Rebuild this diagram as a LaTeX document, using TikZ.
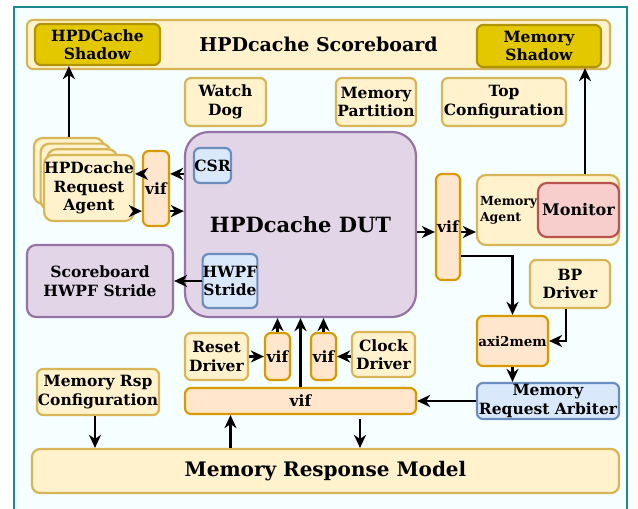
\documentclass[tikz,border=0pt]{standalone}
\usepackage{fontspec}
\setmainfont{DejaVu Serif}
\usetikzlibrary{arrows.meta}
\definecolor{yfill}{HTML}{FFF2CC}\definecolor{ydraw}{HTML}{D6B656}
\definecolor{sfill}{HTML}{E3C800}\definecolor{sdraw}{HTML}{B09500}
\definecolor{ofill}{HTML}{FFE6CC}\definecolor{odraw}{HTML}{D79B00}
\definecolor{pfill}{HTML}{E1D5E7}\definecolor{pdraw}{HTML}{9673A6}
\definecolor{bfill}{HTML}{DAE8FC}\definecolor{bdraw}{HTML}{6C8EBF}
\definecolor{rfill}{HTML}{F8CECC}\definecolor{rdraw}{HTML}{B85450}
\definecolor{bord}{HTML}{1A8A8F}\definecolor{fond}{HTML}{F5FFFF}

\begin{document}
\begin{tikzpicture}[x=1pt, y=-1pt]
  %tikz%
  % Banc de test HPDcache
  %tikz%
    \tikzset{boite/.style={draw, line width=2.2pt, rounded corners=6pt, align=center,
               inner sep=0pt, font=\fontsize{15.5}{18.5}\selectfont\bfseries},
             jaune/.style={boite, fill=yfill, draw=ydraw},
             ombre/.style={boite, fill=sfill, draw=sdraw},
             vif/.style={boite, fill=ofill, draw=odraw},
             violet/.style={boite, fill=pfill, draw=pdraw},
             bleu/.style={boite, fill=bfill, draw=bdraw},
             rouge/.style={boite, fill=rfill, draw=rdraw},
             fl/.style={line width=2.2pt, -{Stealth[length=13pt, width=12pt, inset=4pt]}}}

    \path[use as bounding box, clip] (0,0) rectangle (638,509);
    \fill[white] (0,0) rectangle (638,509);
    \draw[line width=2.5pt, draw=bord, fill=fond] (14,7) rectangle (627,530);

    % scoreboard
    \node[jaune, minimum width=583pt, minimum height=49pt,
          font=\fontsize{19}{22}\selectfont\bfseries] (sb) at (318.5,44.5) {HPDcache Scoreboard};
    \node[ombre, minimum width=125pt, minimum height=41pt] (hsh) at (97.5,44.5) {HPDCache\\Shadow};
    \node[ombre, minimum width=124pt, minimum height=42pt] (msh) at (539,46) {Memory\\Shadow};

    \node[jaune, minimum width=81pt, minimum height=48pt] (wd) at (225.5,102) {Watch\\Dog};
    \node[jaune, minimum width=80pt, minimum height=48pt] (mp) at (376,102) {Memory\\Partition};
    \node[jaune, minimum width=124pt, minimum height=48pt] (tc) at (504,102) {Top\\Configuration};

    % agents
    \foreach \k in {3,2,1}{
      \node[jaune, minimum width=70pt, minimum height=66pt, rounded corners=9pt] (ag\k) at ({89-6.7*\k},{188-5.7*\k}) {};
    }
    \node[jaune, minimum width=70pt, minimum height=66pt, rounded corners=9pt] (ag0) at (89,188) {HPDcache\\Request\\Agent};
    \node[vif, minimum width=26pt, minimum height=75pt] (lvif) at (156,188.5) {vif};

    % DUT
    \node[violet, minimum width=231pt, minimum height=185pt, rounded corners=24pt,
          font=\fontsize{21}{24}\selectfont\bfseries] (dut) at (300.5,224.5) {HPDcache DUT};
    \node[bleu, minimum width=37pt, minimum height=35pt] (csr) at (212.5,165.5) {CSR};
    \node[bleu, minimum width=54pt, minimum height=54pt] (hwpf) at (230,281) {HWPF\\Stride};
    \node[violet, minimum width=146pt, minimum height=72pt, rounded corners=9pt] (sbh) at (100,281) {Scoreboard\\HWPF Stride};

    % memoire
    \node[vif, minimum width=24pt, minimum height=106pt] (rvif) at (448,227) {vif};
    \node[jaune, minimum height=70pt, text width=136pt, inner xsep=3pt, align=left,
          rounded corners=9pt, font=\fontsize{12.5}{16}\selectfont\bfseries] (ma) at (548,210) {Memory\\Agent};
    \node[rouge, minimum width=81pt, minimum height=54pt, rounded corners=9pt,
          font=\fontsize{16}{19}\selectfont\bfseries] (mon) at (578.5,210) {Monitor};
    \node[jaune, minimum width=80pt, minimum height=48pt] (bp) at (570,284) {BP\\Driver};
    \node[vif, minimum width=71pt, minimum height=50pt,
          font=\fontsize{13.5}{16}\selectfont\bfseries] (axi) at (512.5,341) {axi2mem};
    \node[bleu, minimum width=142pt, minimum height=36pt] (arb) at (548,401) {Memory\\Request Arbiter};

    % en bas
    \node[vif, minimum width=231pt, minimum height=26pt] (bvif) at (300.5,401) {vif};
    \node[jaune, minimum width=63pt, minimum height=47pt] (rst) at (216.5,356.5) {Reset\\Driver};
    \node[vif, minimum width=25pt, minimum height=47pt] (v1) at (277.5,356.5) {vif};
    \node[vif, minimum width=25pt, minimum height=47pt] (v2) at (323.5,356.5) {vif};
    \node[jaune, minimum width=63pt, minimum height=45pt] (clk) at (383.5,354.5) {Clock\\Driver};
    \node[jaune, minimum width=122pt, minimum height=46pt] (cfg) at (98,392) {Memory Rsp\\Configuration};
    \node[jaune, minimum width=587pt, minimum height=44pt, rounded corners=8pt,
          font=\fontsize{20}{23}\selectfont\bfseries] (mrm) at (325.5,471) {Memory Response Model};

    % fleches
    \draw[fl] (ag3.north) -- (ag3.north |- hsh.south);
    \coordinate (lvh) at ([yshift=-24pt]lvif.north);
    \coordinate (lvb) at ([yshift=16pt]lvif.south);
    \draw[fl] (dut.west |- lvh) -- (lvif.east |- lvh);
    \draw[fl] (lvif.west |- lvh) -- (ag0.east |- lvh);
    \draw[fl] (ag0.east |- lvb) -- (lvif.west |- lvb);
    \draw[fl] (lvif.east |- lvb) -- (dut.west |- lvb);
    \draw[fl] (hwpf.west) -- (sbh.east |- hwpf.west);

    \coordinate (rvm) at ([yshift=-5pt]rvif.center);
    \draw[fl] (dut.east |- rvm) -- (rvif.west |- rvm);
    \draw[fl] (rvif.east |- rvm) -- (ma.west |- rvm);
    \draw[fl] ([xshift=37pt]ma.north) -- ([xshift=37pt]ma.north |- msh.south);
    \draw[fl] ([yshift=25pt]rvif.south east) -| (axi.north);
    \draw[fl] ([xshift=-4pt]bp.south) |- (axi.east);
    \draw[fl] (axi.south) -- (axi.south |- arb.north);
    \draw[fl] (arb.west) -- (bvif.east |- arb.west);

    \draw[fl] (bvif.north) -- (bvif.north |- dut.south);
    \draw[fl] (rst.east |- v1.west) -- (v1.west);
    \draw[fl] (v1.north) -- (v1.north |- dut.south);
    \draw[fl] (clk.west |- v2.east) -- (v2.east);
    \draw[fl] (v2.north) -- (v2.north |- dut.south);

    \draw[fl] ([xshift=-3pt]cfg.south) -- ([xshift=-3pt]cfg.south |- mrm.north);
    \coordinate (bg) at ([xshift=-70pt]bvif.south);
    \coordinate (bd) at ([xshift=59.5pt]bvif.south);
    \draw[fl] (bg |- mrm.north) -- (bg);
    \draw[fl, shorten <=4pt] (bd) -- (bd |- mrm.north);

  \end{tikzpicture}
\end{document}
